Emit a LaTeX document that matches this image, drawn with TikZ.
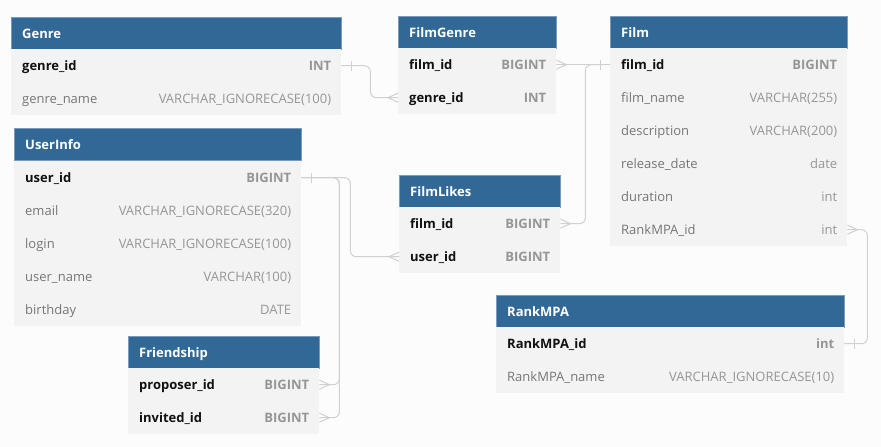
\documentclass[tikz,border=0pt]{standalone}
\usepackage{fontspec}
\setmainfont{Open Sans}
\definecolor{hdr}{RGB}{49,104,150}
\definecolor{hdrline}{RGB}{120,155,190}
\definecolor{bodyfill}{RGB}{243,243,243}
\definecolor{bgc}{RGB}{252,252,252}
\definecolor{keytxt}{RGB}{17,17,17}
\definecolor{nametxt}{RGB}{118,118,118}
\definecolor{typetxt}{RGB}{150,150,150}
\definecolor{keytype}{RGB}{150,150,150}
\definecolor{linec}{RGB}{208,208,208}
\newcommand\erfont{\fontsize{13}{15}\selectfont}
\tikzset{
  head/.style={fill=hdr, draw=hdrline, line width=0.5pt, minimum height=32pt, inner sep=0pt, anchor=north west},
  rowbox/.style={fill=bodyfill, minimum height=33pt, inner sep=0pt, anchor=north west},
  txt/.style={inner sep=0pt, text height=9.5pt, text depth=2.6pt},
  htxt/.style={txt, text=white, font=\erfont\bfseries},
  kname/.style={txt, text=keytxt, font=\erfont\bfseries},
  ktype/.style={txt, text=keytype, font=\erfont\bfseries},
  nname/.style={txt, text=nametxt, font=\erfont},
  ntype/.style={txt, text=typetxt, font=\erfont},
  conn/.style={draw=linec, line width=1pt},
  route/.style={conn, rounded corners=6pt}
}
% #1 id, #2 x, #3 y, #4 width, #5 title
\newcommand\erhead[5]{%
  \node[head, minimum width=#4pt] (#1) at (#2,#3) {};
  \node[htxt, anchor=west] (#1-n) at ([xshift=11pt,yshift=-1.5pt]#1.west) {#5};}
% #1 id, #2 x, #3 y, #4 width, #5 name, #6 type, #7 k/n
\newcommand\errow[7]{%
  \node[rowbox, minimum width=#4pt] (#1) at (#2,#3) {};
  \node[#7name, anchor=west] (#1-n) at ([xshift=11pt,yshift=-1.5pt]#1.west) {#5};
  \node[#7type, anchor=east] (#1-t) at ([xshift=-10pt,yshift=-1.5pt]#1.east) {#6};}
\newcommand\crowE[1]{\draw[conn] ([yshift=4.5pt]#1.east) -- ([xshift=10pt]#1.east) -- ([yshift=-4.5pt]#1.east);}
\newcommand\crowW[1]{\draw[conn] ([yshift=4.5pt]#1.west) -- ([xshift=-10pt]#1.west) -- ([yshift=-4.5pt]#1.west);}
\newcommand\barE[1]{\draw[conn] ([xshift=10pt,yshift=5pt]#1.east) -- ([xshift=10pt,yshift=-5pt]#1.east);}
\newcommand\barW[1]{\draw[conn] ([xshift=-10pt,yshift=5pt]#1.west) -- ([xshift=-10pt,yshift=-5pt]#1.west);}
\begin{document}
\begin{tikzpicture}[x=1pt,y=-1pt]
\fill[bgc] (0,0) rectangle (881,447);
\useasboundingbox (0,0) rectangle (881,447);
% Genre
\erhead{genre}{11}{17}{330}{Genre}
\errow{g-id}{11}{49}{330}{genre\_id}{INT}{k}
\errow{g-name}{11}{82}{330}{genre\_name}{VARCHAR\_IGNORECASE(100)}{n}
% FilmGenre
\erhead{filmgenre}{398}{16}{158}{FilmGenre}
\errow{fg-film}{398}{48}{158}{film\_id}{BIGINT}{k}
\errow{fg-genre}{398}{81}{158}{genre\_id}{INT}{k}
% Film
\erhead{film}{610}{16}{237}{Film}
\errow{f-id}{610}{48}{237}{film\_id}{BIGINT}{k}
\errow{f-name}{610}{81}{237}{film\_name}{VARCHAR(255)}{n}
\errow{f-desc}{610}{114}{237}{description}{VARCHAR(200)}{n}
\errow{f-rel}{610}{147}{237}{release\_date}{date}{n}
\errow{f-dur}{610}{180}{237}{duration}{int}{n}
\errow{f-rank}{610}{213}{237}{RankMPA\_id}{int}{n}
% UserInfo
\erhead{userinfo}{14}{128}{287}{UserInfo}
\errow{u-id}{14}{161}{287}{user\_id}{BIGINT}{k}
\errow{u-mail}{14}{194}{287}{email}{VARCHAR\_IGNORECASE(320)}{n}
\errow{u-login}{14}{227}{287}{login}{VARCHAR\_IGNORECASE(100)}{n}
\errow{u-name}{14}{260}{287}{user\_name}{VARCHAR(100)}{n}
\errow{u-birth}{14}{293}{287}{birthday}{DATE}{n}
% FilmLikes
\erhead{filmlikes}{399}{175}{161}{FilmLikes}
\errow{fl-film}{399}{207}{161}{film\_id}{BIGINT}{k}
\errow{fl-user}{399}{240}{161}{user\_id}{BIGINT}{k}
% Friendship
\erhead{friendship}{128}{336}{191}{Friendship}
\errow{fr-prop}{128}{368}{191}{proposer\_id}{BIGINT}{k}
\errow{fr-inv}{128}{401}{191}{invited\_id}{BIGINT}{k}
% RankMPA
\erhead{rankmpa}{496}{295}{348}{RankMPA}
\errow{r-id}{496}{327}{348}{RankMPA\_id}{int}{k}
\errow{r-name}{496}{360}{348}{RankMPA\_name}{VARCHAR\_IGNORECASE(10)}{n}
% connectors
\draw[route] (g-id.east) -- ++(29,0) |- (fg-genre.west);
\barE{g-id}\crowW{fg-genre}
\draw[conn] (fg-film.east) -- (f-id.west);
\crowE{fg-film}\barW{f-id}
\draw[route] (fl-film.east) -- ++(25,0) |- (f-id.west);
\crowE{fl-film}
\draw[route] (u-id.east) -- ++(49,0) |- (fl-user.west);
\barE{u-id}\crowW{fl-user}
\draw[route] (u-id.east) -- ++(38,0) |- (fr-prop.east);
\draw[route] (u-id.east) -- ++(38,0) |- (fr-inv.east);
\crowE{fr-prop}\crowE{fr-inv}
\draw[route] (f-rank.east) -- ++(20,0) |- (r-id.east);
\crowE{f-rank}\barE{r-id}
\end{tikzpicture}
\end{document}
